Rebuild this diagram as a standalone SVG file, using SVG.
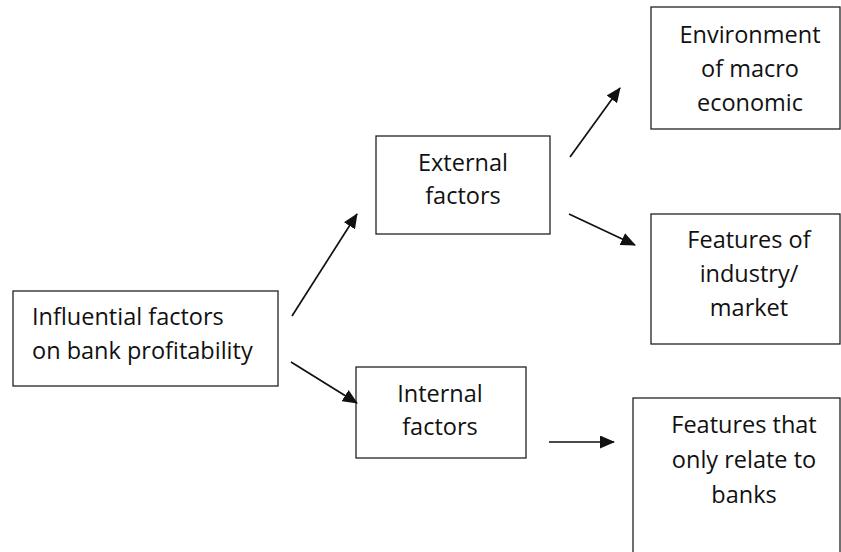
<svg xmlns="http://www.w3.org/2000/svg" width="841" height="552" viewBox="0 0 841 552">
<style>
.box{fill:#fff;stroke:#222;stroke-width:1.3}
.t{font-family:"Open Sans","Liberation Sans",sans-serif;font-size:23.5px;fill:#111}
.c{text-anchor:middle}
.arr{stroke:#111;stroke-width:1.7;fill:none;marker-end:url(#ah)}
</style>
<defs>
<marker id="ah" markerUnits="userSpaceOnUse" markerWidth="15" markerHeight="13" viewBox="0 0 15 13" refX="14" refY="6.5" orient="auto">
<path d="M0,0 L15,6.5 L0,13 z" fill="#111"/>
</marker>
</defs>
<rect width="841" height="552" fill="#fff"/>
<g id="n-influential">
<rect class="box" x="13" y="291" width="265" height="95"/>
<text class="t" x="32" y="325">Influential factors</text>
<text class="t" x="32" y="359">on bank profitability</text>
</g>
<g id="n-external">
<rect class="box" x="376" y="136" width="174" height="98"/>
<text class="t c" x="463" y="171">External</text>
<text class="t c" x="463" y="204">factors</text>
</g>
<g id="n-internal">
<rect class="box" x="356" y="367" width="170" height="91"/>
<text class="t c" x="440" y="402">Internal</text>
<text class="t c" x="440" y="435">factors</text>
</g>
<g id="n-environment">
<rect class="box" x="651" y="7" width="189" height="122"/>
<text class="t c" x="750" y="43">Environment</text>
<text class="t c" x="750" y="77">of macro</text>
<text class="t c" x="750" y="111">economic</text>
</g>
<g id="n-industry">
<rect class="box" x="651" y="214" width="189" height="130"/>
<text class="t c" x="749" y="248">Features of</text>
<text class="t c" x="749" y="282">industry/</text>
<text class="t c" x="749" y="316">market</text>
</g>
<g id="n-banks">
<rect class="box" x="633" y="398" width="207" height="160"/>
<text class="t c" x="744" y="433">Features that</text>
<text class="t c" x="744" y="468">only relate to</text>
<text class="t c" x="744" y="503">banks</text>
</g>
<g id="connectors">
<line class="arr" x1="292" y1="316" x2="357" y2="214"/>
<line class="arr" x1="291" y1="362" x2="357" y2="403"/>
<line class="arr" x1="570" y1="157" x2="620" y2="88"/>
<line class="arr" x1="569" y1="214" x2="635" y2="245"/>
<line class="arr" x1="549" y1="442" x2="614" y2="442"/>
</g>
</svg>
